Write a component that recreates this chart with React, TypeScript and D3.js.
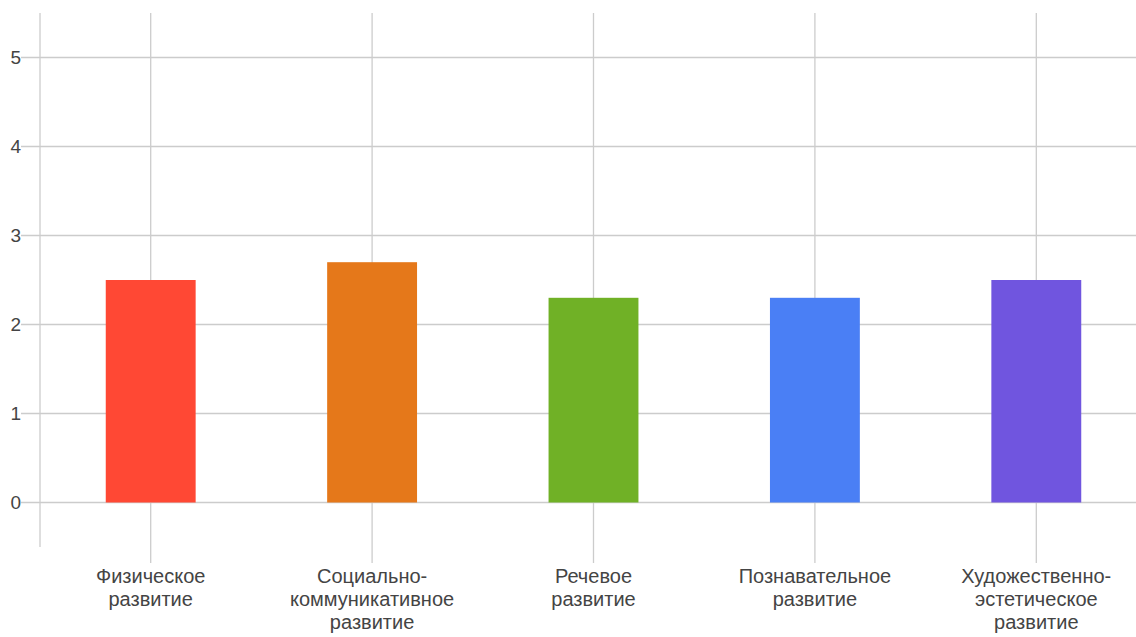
import React from "react";
import * as d3 from "d3";

const categories: string[][] = [
  ["Физическое", "развитие"],
  ["Социально-", "коммуникативное", "развитие"],
  ["Речевое", "развитие"],
  ["Познавательное", "развитие"],
  ["Художественно-", "эстетическое", "развитие"],
];
const values: number[] = [2.5, 2.7, 2.3, 2.3, 2.5];
const colors: string[] = ["#FF4834", "#E5781A", "#70B126", "#4A7FF5", "#7055DF"];
const yTicks: number[] = [0, 1, 2, 3, 4, 5];

const W = 1136;
const H = 637;

export default function App() {
  const keys = categories.map((_, i) => String(i));
  const x = d3
    .scaleBand<string>()
    .domain(keys)
    .range([40, 40 + 5 * 221.4])
    .paddingInner(0.594)
    .paddingOuter(0.297);
  const y = d3.scaleLinear().domain([-0.5, 5.5]).range([547, 13]);
  const font = "'Liberation Sans', Arial, sans-serif";
  return (
    <svg
      width={W}
      height={H}
      style={{ position: "absolute", left: 0, top: 0, background: "#fff" }}
    >
      {yTicks.map((t) => (
        <g key={t}>
          <line x1={21} x2={W} y1={y(t)} y2={y(t)} stroke="#cccccc" strokeWidth={1.3} />
          <text
            x={21}
            y={y(t)}
            dy="0.36em"
            textAnchor="end"
            fontFamily={font}
            fontSize={19}
            fill="#444"
          >
            {t}
          </text>
        </g>
      ))}
      <line x1={40} x2={40} y1={y(5.5)} y2={y(-0.5)} stroke="#cccccc" strokeWidth={1.3} />
      {keys.map((k) => {
        const cx = (x(k) as number) + x.bandwidth() / 2;
        return (
          <line key={k} x1={cx} x2={cx} y1={y(5.5)} y2={563} stroke="#cccccc" strokeWidth={1.3} />
        );
      })}
      {values.map((v, i) => (
        <rect
          key={i}
          x={x(keys[i]) as number}
          width={x.bandwidth()}
          y={y(v)}
          height={y(0) - y(v)}
          fill={colors[i]}
        />
      ))}
      {categories.map((lines, i) => {
        const cx = (x(keys[i]) as number) + x.bandwidth() / 2;
        return (
          <text
            key={i}
            x={cx}
            textAnchor="middle"
            fontFamily={font}
            fontSize={20}
            fill="#444"
          >
            {lines.map((l, j) => (
              <tspan key={j} x={cx} y={583 + j * 23}>
                {l}
              </tspan>
            ))}
          </text>
        );
      })}
    </svg>
  );
}
